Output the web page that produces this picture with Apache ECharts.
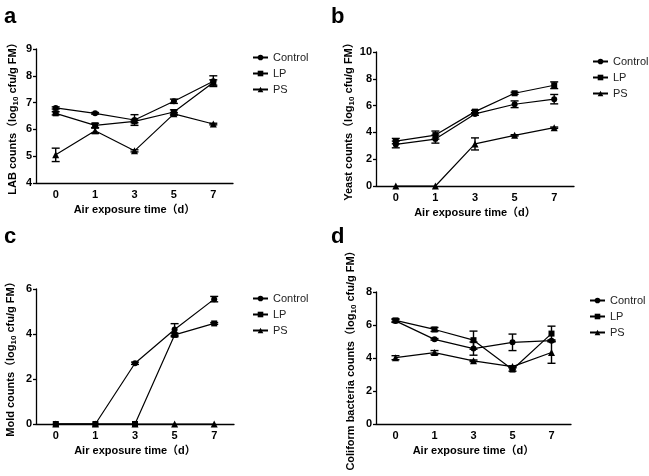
<!DOCTYPE html>
<html>
<head>
    <meta charset="utf-8">
    <script src="https://cdn.jsdelivr.net/npm/echarts@6/dist/echarts.min.js"></script>
    <style>
        body, html {
            margin: 0;
            height: 100%;
            background: #fff;
        }
        #main {
            width: 649px;
            height: 476px;
        }
    </style>
</head>
<body>
<div id="main"></div>

<script>
    // 取样天数
    var days = ['0', '1', '3', '5', '7'];
    var groups = ['Control', 'LP', 'PS'];

    // a: LAB
    var labControl = [6.8, 6.6, 6.35, 7.05, 7.8];
    var labLP = [6.6, 6.15, 6.3, 6.65, 7.75];
    var labPS = [5.05, 5.95, 5.2, 6.58, 6.2];
    var labControlSd = [0.04, 0.03, 0.2, 0.08, 0.2];
    var labLPSd = [0.06, 0.08, 0.05, 0.08, 0.1];
    var labPSSd = [0.25, 0.1, 0.04, 0.05, 0.03];

    // b: Yeast
    var yeastControl = [3.1, 3.5, 5.38, 6.1, 6.48];
    var yeastLP = [3.35, 3.8, 5.55, 6.92, 7.52];
    var yeastPS = [0, 0, 3.14, 3.78, 4.35];
    var yeastControlSd = [0.25, 0.3, 0.1, 0.25, 0.35];
    var yeastLPSd = [0.2, 0.3, 0.1, 0.08, 0.25];
    var yeastPSSd = [0, 0, 0.45, 0.05, 0.05];

    // c: Mold
    var moldControl = [0, 0, 2.7, 4.2, 5.55];
    var moldLP = [0, 0, 0, 3.96, 4.47];
    var moldPS = [0, 0, 0, 0, 0];
    var moldControlSd = [0, 0, 0.05, 0.26, 0.12];
    var moldLPSd = [0, 0, 0, 0.08, 0.04];
    var moldPSSd = [0, 0, 0, 0, 0];

    // d: Coliform bacteria
    var coliControl = [6.25, 5.13, 4.57, 4.95, 5.05];
    var coliLP = [6.28, 5.73, 5.08, 3.3, 5.48];
    var coliPS = [4.02, 4.33, 3.83, 3.48, 4.33];
    var coliControlSd = [0.08, 0.05, 0.4, 0.5, 0.05];
    var coliLPSd = [0.1, 0.12, 0.55, 0.1, 0.45];
    var coliPSSd = [0.12, 0.12, 0.05, 0.05, 0.65];

    var FONT = '"Liberation Sans", Arial, "Noto Sans CJK SC", sans-serif';
    var symbols = ['circle', 'rect', 'triangle'];
    var symbolSizes = [6, 6, 7];

    var panels = [
        {letter: 'a', name: 'LAB counts', min: 4, max: 9, interval: 1,
         grid: {left: 36, top: 49, width: 197, height: 134}, nameGap: 16,
         legend: {left: 247, top: 47}, letterPos: [4, 6],
         means: [labControl, labLP, labPS], sds: [labControlSd, labLPSd, labPSSd]},
        {letter: 'b', name: 'Yeast counts', min: 0, max: 10, interval: 2,
         grid: {left: 376, top: 52, width: 198, height: 134}, nameGap: 20,
         legend: {left: 587, top: 51}, letterPos: [331, 6],
         means: [yeastControl, yeastLP, yeastPS], sds: [yeastControlSd, yeastLPSd, yeastPSSd]},
        {letter: 'c', name: 'Mold counts', min: 0, max: 6, interval: 2,
         grid: {left: 36, top: 289, width: 198, height: 135}, nameGap: 18,
         legend: {left: 247, top: 288}, letterPos: [4, 226],
         means: [moldControl, moldLP, moldPS], sds: [moldControlSd, moldLPSd, moldPSSd]},
        {letter: 'd', name: 'Coliform bacteria counts', min: 0, max: 8, interval: 2,
         grid: {left: 376, top: 292, width: 195, height: 132}, nameGap: 18,
         legend: {left: 584, top: 290}, letterPos: [331, 226],
         means: [coliControl, coliLP, coliPS], sds: [coliControlSd, coliLPSd, coliPSSd]}
    ];

    function renderErr(params, api) {
        var x = api.value(0), lo = api.value(1), hi = api.value(2);
        if (hi - lo <= 0) return;
        var top = api.coord([x, hi]);
        var bot = api.coord([x, lo]);
        var w = 4;
        var st = {stroke: '#000', lineWidth: 1.4};
        return {
            type: 'group',
            children: [
                {type: 'line', shape: {x1: top[0], y1: top[1], x2: bot[0], y2: bot[1]}, style: st},
                {type: 'line', shape: {x1: top[0] - w, y1: top[1], x2: top[0] + w, y2: top[1]}, style: st},
                {type: 'line', shape: {x1: bot[0] - w, y1: bot[1], x2: bot[0] + w, y2: bot[1]}, style: st}
            ]
        };
    }

    var grids = [], xAxes = [], yAxes = [], legends = [], series = [], graphics = [];

    panels.forEach(function (p, k) {
        grids.push(p.grid);
        xAxes.push({
            type: 'category', gridIndex: k, data: days, boundaryGap: true,
            name: 'Air exposure time（d）', nameLocation: 'middle', nameGap: 21,
            nameTextStyle: {fontFamily: FONT, fontSize: 11, fontWeight: 'bold', color: '#000'},
            axisLine: {lineStyle: {color: '#000', width: 1.3}},
            axisTick: {alignWithLabel: true, length: 4, lineStyle: {color: '#000', width: 1.3}},
            axisLabel: {fontFamily: FONT, fontSize: 11, fontWeight: 'bold', color: '#000', margin: 6},
            splitLine: {show: false}
        });
        yAxes.push({
            type: 'value', gridIndex: k, min: p.min, max: p.max, interval: p.interval,
            name: '{m|' + p.name + '（log}{s|10}{m| cfu/g FM）}',
            nameLocation: 'middle', nameGap: p.nameGap,
            nameTextStyle: {
                fontFamily: FONT, fontSize: 11, fontWeight: 'bold', color: '#000',
                rich: {
                    m: {fontFamily: FONT, fontSize: 11, fontWeight: 'bold', color: '#000', lineHeight: 14, verticalAlign: 'middle'},
                    s: {fontFamily: FONT, fontSize: 8, fontWeight: 'bold', color: '#000', lineHeight: 6, verticalAlign: 'bottom'}
                }
            },
            axisLine: {show: true, lineStyle: {color: '#000', width: 1.3}},
            axisTick: {show: true, length: 3, lineStyle: {color: '#000', width: 1.3}},
            axisLabel: {fontFamily: FONT, fontSize: 11, fontWeight: 'bold', color: '#000', margin: 4},
            splitLine: {show: false}
        });
        legends.push({
            orient: 'vertical', left: p.legend.left, top: p.legend.top,
            data: groups, itemWidth: 15, itemHeight: 7, itemGap: 5,
            textStyle: {fontFamily: FONT, fontSize: 11, color: '#222'},
            selectedMode: false
        });
        groups.forEach(function (g, j) {
            series.push({
                name: g, type: 'line', xAxisIndex: k, yAxisIndex: k,
                data: p.means[j], symbol: symbols[j], symbolSize: symbolSizes[j],
                showAllSymbol: true,
                lineStyle: {color: '#000', width: 1.2},
                itemStyle: {color: '#000'},
                animation: false, z: 3
            });
            series.push({
                type: 'custom', xAxisIndex: k, yAxisIndex: k,
                renderItem: renderErr,
                data: p.means[j].map(function (v, i) {
                    return [i, v - p.sds[j][i], v + p.sds[j][i]];
                }),
                encode: {x: 0, y: [1, 2]},
                silent: true, animation: false, z: 4
            });
        });
        graphics.push({
            type: 'text', left: p.letterPos[0], top: p.letterPos[1],
            style: {text: p.letter, font: 'bold 22px ' + FONT, fill: '#000'}
        });
    });

    var myChart = echarts.init(document.getElementById('main'));
    var option = {
        backgroundColor: '#fff',
        animation: false,
        grid: grids,
        xAxis: xAxes,
        yAxis: yAxes,
        legend: legends,
        series: series,
        graphic: graphics
    };
    myChart.setOption(option);
</script>
</body>
</html>
